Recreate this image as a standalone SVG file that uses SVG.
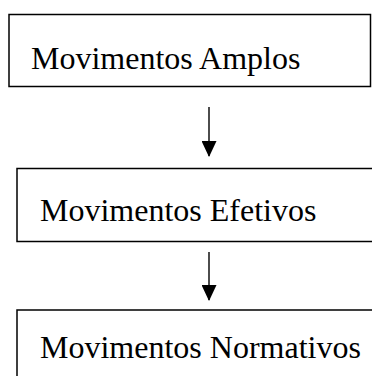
<svg xmlns="http://www.w3.org/2000/svg" width="372" height="376" viewBox="0 0 372 376">
<style>
.box{fill:#fff;stroke:#000;stroke-width:1.5}
.lbl{font-family:"Liberation Serif","Times New Roman",serif;font-size:32px;fill:#000}
.conn{stroke:#000;stroke-width:1.4;fill:none;marker-end:url(#ah)}
</style>
<defs>
<marker id="ah" markerWidth="16" markerHeight="15" refX="15" refY="7.5" orient="auto" markerUnits="userSpaceOnUse" viewBox="0 0 16 15">
<path d="M0,0 L16,7.5 L0,15 Z" fill="#000"/>
</marker>
</defs>
<rect width="372" height="376" fill="#fff"/>
<g id="node-amplos">
<rect class="box" x="9" y="14.5" width="361.5" height="72"/>
<text class="lbl" x="31" y="69">Movimentos Amplos</text>
</g>
<g id="node-efetivos">
<rect class="box" x="17" y="168.5" width="370" height="73"/>
<text class="lbl" x="40" y="221">Movimentos Efetivos</text>
</g>
<g id="node-normativos">
<rect class="box" x="17" y="310" width="370" height="80"/>
<text class="lbl" x="40" y="358">Movimentos Normativos</text>
</g>
<g id="connectors">
<line class="conn" x1="209" y1="107" x2="209" y2="156"/>
<line class="conn" x1="209" y1="252" x2="209" y2="300"/>
</g>
</svg>
